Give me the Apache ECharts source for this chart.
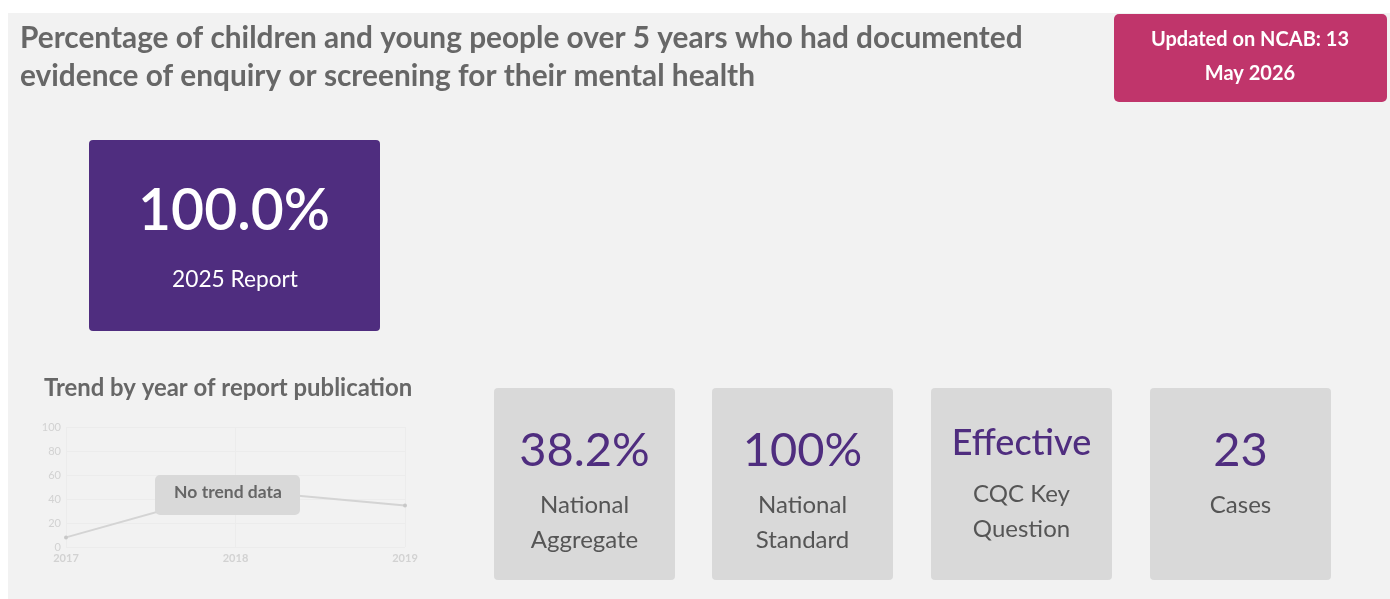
<!DOCTYPE html>
<html>
<head>
<meta charset="utf-8">
<script src="https://cdn.jsdelivr.net/npm/echarts@6/dist/echarts.min.js"></script>
<style>
html,body{margin:0;padding:0;background:#ffffff;}
#c{width:1390px;height:599px;}
</style>
</head>
<body>
<div id="c"></div>
<script>
const titleLines = ["Percentage of children and young people over 5 years who had documented", "evidence of enquiry or screening for their mental health"];
const updatedLines = ["Updated on NCAB: 13", "May 2026"];
const headlineValue = "100.0%";
const headlineLabel = "2025 Report";
const trendTitle = "Trend by year of report publication";
const trendYears = ["2017", "2018", "2019"];
const trendValues = [8, 47.5, 34.5];
const yTicks = [0, 20, 40, 60, 80, 100];
const noTrendText = "No trend data";
const cardValues = ["38.2%", "100%", "Effective", "23"];
const cardLabels = [["National", "Aggregate"], ["National", "Standard"], ["CQC Key", "Question"], ["Cases"]];

const FONT = "Lato";
const chart = echarts.init(document.getElementById('c'), null, {renderer: 'canvas'});

const graphics = [];
// panel background
graphics.push({type:'rect', z:-10, shape:{x:8,y:13,width:1382,height:586}, style:{fill:'#f2f2f2'}});
// title
titleLines.forEach((t,i)=>{
  graphics.push({type:'text', style:{text:t, x:20, y:38+i*38, fill:'#676767', font:'bold 29.8px '+FONT, textVerticalAlign:'middle'}});
});
// updated box
graphics.push({type:'rect', shape:{x:1114,y:14,width:273,height:88,r:5}, style:{fill:'#c0356b'}});
updatedLines.forEach((t,i)=>{
  graphics.push({type:'text', style:{text:t, x:1250, y:40+i*34, fill:'#ffffff', font:'bold 20px '+FONT, textAlign:'center', textVerticalAlign:'middle'}});
});
// headline box
graphics.push({type:'rect', shape:{x:89,y:140,width:291,height:191,r:4}, style:{fill:'#4f2d7f'}});
graphics.push({type:'text', style:{text:headlineValue, x:234, y:212, fill:'#ffffff', font:'600 57px '+FONT, textAlign:'center', textVerticalAlign:'middle'}});
graphics.push({type:'text', style:{text:headlineLabel, x:235, y:280, fill:'#ffffff', font:'22.7px '+FONT, textAlign:'center', textVerticalAlign:'middle'}});
// trend title
graphics.push({type:'text', style:{text:trendTitle, x:44, y:388, fill:'#676767', font:'bold 23.9px '+FONT, textVerticalAlign:'middle'}});
// no trend box
graphics.push({type:'rect', z:20, shape:{x:155,y:475,width:145,height:40,r:5}, style:{fill:'#d9d9d9'}});
graphics.push({type:'text', z:21, style:{text:noTrendText, x:228, y:492, fill:'#666666', font:'bold 17.5px '+FONT, textAlign:'center', textVerticalAlign:'middle'}});
// cards
const cardX = [494, 712, 931, 1150];
cardValues.forEach((v,i)=>{
  const x = cardX[i], w = 181;
  const cx = x + w/2;
  graphics.push({type:'rect', shape:{x:x,y:388,width:w,height:192,r:4}, style:{fill:'#d9d9d9'}});
  const isWord = (i===2);
  const vy = isWord ? 443 : 451;
  const vfont = isWord ? '500 36px ' : '47px ';
  graphics.push({type:'text', style:{text:v, x:cx, y:vy, fill:'#4f2d7f', font:vfont+FONT, textAlign:'center', textVerticalAlign:'middle'}});
  const ly = isWord ? 494 : 505;
  cardLabels[i].forEach((l,j)=>{
    graphics.push({type:'text', style:{text:l, x:cx, y:ly+j*35, fill:'#555555', font:'24px '+FONT, textAlign:'center', textVerticalAlign:'middle'}});
  });
});

chart.setOption({
  animation:false,
  backgroundColor:'transparent',
  grid:{left:66, right:985, top:427, bottom:52, containLabel:false},
  xAxis:{type:'category', data:trendYears, boundaryGap:false,
    axisLine:{show:false}, axisTick:{show:false},
    axisLabel:{color:'#d2d2d2', fontSize:11, fontFamily:FONT, fontWeight:'bold', margin:6},
    splitLine:{show:true, lineStyle:{color:'#ececec', width:1}}},
  yAxis:{type:'value', min:0, max:100, interval:20,
    axisLine:{show:false}, axisTick:{show:false},
    axisLabel:{color:'#d2d2d2', fontSize:11, fontFamily:FONT, margin:5,
      formatter:function(v){return yTicks.indexOf(v)>=0 ? String(v) : '';}},
    splitLine:{show:true, lineStyle:{color:'#ececec', width:1}}},
  series:[{type:'line', data:trendValues, symbol:'circle', symbolSize:4,
    lineStyle:{color:'#d4d4d4', width:2}, itemStyle:{color:'#c8c8c8'}, z:5}],
  graphic:graphics
});
</script>
</body>
</html>
